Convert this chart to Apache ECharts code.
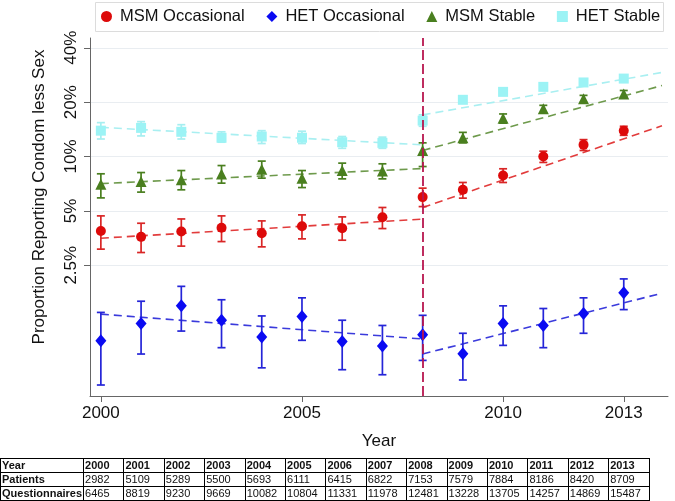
<!DOCTYPE html>
<html>
<head>
<meta charset="utf-8">
<script src="https://cdn.jsdelivr.net/npm/echarts@6/dist/echarts.min.js"></script>
<style>
  html, body { margin:0; padding:0; background:#fff; }
  #wrap { position:relative; width:675px; height:501px; overflow:hidden; }
  #chart { position:absolute; left:0; top:0; width:675px; height:501px; }
  #tbl { position:absolute; left:0; top:458px; border-collapse:collapse; table-layout:fixed;
         font-family:"Liberation Sans", Arial, sans-serif; font-size:11px; color:#111; }
  #tbl td { border:1px solid #000; padding:0 1px; height:13px; line-height:13px; white-space:nowrap; overflow:visible; }
  #tbl td.h { font-weight:bold; }
</style>
</head>
<body>
<div id="wrap">
  <div id="chart"></div>
  <table id="tbl"></table>
</div>
<script>
// ---------- data ----------
const years = [2000,2001,2002,2003,2004,2005,2006,2007,2008,2009,2010,2011,2012,2013];

const msmOcc   = [3.87,3.59,3.84,4.03,3.76,4.11,4.01,4.61,5.96,6.54,7.85,10.0,11.6,13.9];
const msmOccLo = [3.07,2.94,3.19,3.38,3.16,3.50,3.44,3.99,5.28,5.88,7.18,9.27,10.8,13.1];
const msmOccHi = [4.69,4.27,4.51,4.69,4.40,4.75,4.63,5.22,6.68,7.18,8.55,10.7,12.4,14.7];

const hetOcc   = [0.956,1.19,1.49,1.24,1.00,1.30,0.947,0.893,1.03,0.809,1.19,1.16,1.35,1.76];
const hetOccLo = [0.543,0.806,1.08,0.874,0.676,0.960,0.660,0.619,0.743,0.579,0.900,0.874,1.05,1.42];
const hetOccHi = [1.37,1.58,1.91,1.61,1.31,1.65,1.24,1.16,1.32,1.05,1.49,1.44,1.65,2.10];

const msmSt   = [7.03,7.27,7.43,7.99,8.51,7.59,8.36,8.30,10.8,12.7,16.3,18.4,20.9,22.2];
const msmStLo = [5.90,6.35,6.54,7.12,7.59,6.73,7.52,7.52,8.80,11.9,15.3,17.4,19.9,21.3];
const msmStHi = [8.02,8.15,8.36,8.91,9.43,8.36,9.19,9.11,11.9,13.6,17.2,19.2,21.8,23.2];

const hetSt   = [13.9,14.4,13.7,12.7,12.9,12.7,12.0,11.9,15.8,20.6,22.8,24.3,25.7,27.0];
const hetStLo = [12.5,13.0,12.5,12.0,11.8,11.8,11.1,11.1,14.7,20.0,22.1,23.6,25.0,26.3];
const hetStHi = [15.4,15.6,15.0,13.7,13.9,13.8,12.9,12.8,17.0,21.3,23.6,25.0,26.4,27.7];

// fitted segmented trends (start/end values)
const fitPreX  = [2000, 2008];
const fitPostX = [2008, 2013.95];
const msmOccFitPre = [3.53, 4.50],  msmOccFitPost = [5.22, 14.8];
const hetOccFitPre = [1.34, 0.976], hetOccFitPost = [0.806, 1.75];
const msmStFitPre  = [7.08, 8.58],  msmStFitPost  = [10.8, 24.7];
const hetStFitPre  = [14.5, 11.6],  hetStFitPost  = [17.0, 29.2];

const breakYear = 2008;
const yTicks = [2.5, 5, 10, 20, 40];
const xTicks = [2000, 2005, 2010, 2013];

const patients       = [2982,5109,5289,5500,5693,6111,6415,6822,7153,7579,7884,8186,8420,8709];
const questionnaires = [6465,8819,9230,9669,10082,10804,11331,11978,12481,13228,13705,14257,14869,15487];

// ---------- table ----------
(function buildTable(){
  const t = document.getElementById('tbl');
  let html = '<colgroup><col style="width:82px">' + years.map(()=> '<col style="width:40.4px">').join('') + '</colgroup>';
  html += '<tr><td class="h">Year</td>' + years.map(y=>'<td class="h">'+y+'</td>').join('') + '</tr>';
  html += '<tr><td class="h">Patients</td>' + patients.map(v=>'<td>'+v+'</td>').join('') + '</tr>';
  html += '<tr><td class="h">Questionnaires</td>' + questionnaires.map(v=>'<td>'+v+'</td>').join('') + '</tr>';
  t.innerHTML = html;
})();

// ---------- chart ----------
const FONT = '"Liberation Sans", Arial, sans-serif';
const pts = (ys)=> years.map((y,i)=>[y, ys[i]]);
const seg = (xs, ys)=> xs.map((x,i)=>[x, ys[i]]);

function errSeries(lo, hi, color){
  return {
    type:'custom', silent:true, z:2,
    data: years.map((y,i)=>[y, lo[i], hi[i]]),
    encode:{ x:0, y:[1,2] },
    renderItem:(params, api)=>{
      const x = api.value(0);
      const a = api.coord([x, api.value(1)]);
      const b = api.coord([x, api.value(2)]);
      const w = 4;
      const st = { stroke:color, lineWidth:1.7 };
      return { type:'group', children:[
        { type:'line', shape:{x1:a[0], y1:a[1], x2:b[0], y2:b[1]}, style:st },
        { type:'line', shape:{x1:a[0]-w, y1:a[1], x2:a[0]+w, y2:a[1]}, style:st },
        { type:'line', shape:{x1:b[0]-w, y1:b[1], x2:b[0]+w, y2:b[1]}, style:st }
      ]};
    }
  };
}
function fitSeries(data, color){
  return { type:'line', data, symbol:'none', silent:true, z:1,
           lineStyle:{ color, width:1.6, type:[8,5] } };
}
function ptSeries(name, data, symbol, size, color){
  return { type:'scatter', name, data, symbol, symbolSize:size, z:4,
           itemStyle:{ color, opacity:1 } };
}

const C = {
  msmOcc:'#dd0a0a', msmOccL:'#e23c3c',
  hetOcc:'#0a0af2', hetOccL:'#3b3bdc',
  msmSt:'#4a7f1f', msmStL:'#6e9a4c',
  hetSt:'#9cf3f5', hetStL:'#a9eff1'
};

const chart = echarts.init(document.getElementById('chart'), null, {renderer:'canvas'});
chart.setOption({
  animation:false,
  backgroundColor:'#fff',
  textStyle:{ fontFamily:FONT },
  graphic:[{ type:'rect', left:95, top:2, shape:{ width:568, height:29 },
             style:{ fill:'#fff', stroke:'#dcdcdc', lineWidth:1 }, z:-1, silent:true }],
  legend:{
    left:101, top:8, padding:0, itemGap:21.7, itemWidth:11, itemHeight:11,
    textStyle:{ fontFamily:FONT, fontSize:16.5, color:'#111', padding:[0,0,0,3] },
    data:[
      { name:'MSM Occasional', icon:'circle' },
      { name:'HET Occasional', icon:'diamond' },
      { name:'MSM Stable', icon:'triangle' },
      { name:'HET Stable', icon:'rect' }
    ]
  },
  grid:{ left:90, top:38, right:7, bottom:105 },
  xAxis:{
    type:'value', min:1999.73, max:2014.1,
    name:'Year', nameLocation:'middle', nameGap:37,
    nameTextStyle:{ fontFamily:FONT, fontSize:17, color:'#111' },
    axisLine:{ show:true, lineStyle:{ color:'#666', width:1 } },
    axisTick:{ show:true, length:6, lineStyle:{ color:'#666' }, customValues:xTicks },
    axisLabel:{ fontFamily:FONT, fontSize:17, color:'#111', margin:9, customValues:xTicks,
                formatter:(v)=> String(Math.round(v)) },
    splitLine:{ show:false }
  },
  yAxis:{
    type:'log', logBase:10, min:0.472, max:45.3,
    name:'Proportion Reporting Condom less Sex', nameLocation:'middle', nameGap:42,
    nameTextStyle:{ fontFamily:FONT, fontSize:17, color:'#111', padding:[0,0,0,40] },
    axisLine:{ show:true, lineStyle:{ color:'#666', width:1 } },
    axisTick:{ show:true, length:6, lineStyle:{ color:'#666' }, customValues:yTicks },
    axisLabel:{ fontFamily:FONT, fontSize:17, color:'#111', rotate:90, margin:10,
                customValues:yTicks, formatter:(v)=> v + '%' },
    splitLine:{ show:true, lineStyle:{ color:'#e9edf1', width:1 } }
  },
  series:[
    fitSeries(seg(fitPreX, msmOccFitPre), C.msmOccL),
    fitSeries(seg(fitPostX, msmOccFitPost), C.msmOccL),
    fitSeries(seg(fitPreX, hetOccFitPre), C.hetOccL),
    fitSeries(seg(fitPostX, hetOccFitPost), C.hetOccL),
    fitSeries(seg(fitPreX, msmStFitPre), C.msmStL),
    fitSeries(seg(fitPostX, msmStFitPost), C.msmStL),
    fitSeries(seg(fitPreX, hetStFitPre), C.hetStL),
    fitSeries(seg(fitPostX, hetStFitPost), C.hetStL),
    errSeries(msmOccLo, msmOccHi, '#d92626'),
    errSeries(hetOccLo, hetOccHi, '#2525d8'),
    errSeries(msmStLo, msmStHi, '#4a7f1f'),
    errSeries(hetStLo, hetStHi, '#a6eef0'),
    Object.assign(ptSeries('MSM Occasional', pts(msmOcc), 'circle', 10, C.msmOcc), {
      markLine:{ silent:true, symbol:'none', label:{show:false},
                 lineStyle:{ color:'#b8174f', width:1.8, type:[10,4] },
                 data:[{ xAxis:breakYear }] }
    }),
    ptSeries('HET Occasional', pts(hetOcc), 'diamond', [11,13], C.hetOcc),
    ptSeries('MSM Stable', pts(msmSt), 'triangle', 11, C.msmSt),
    ptSeries('HET Stable', pts(hetSt), 'rect', 10, C.hetSt)
  ]
});
</script>
</body>
</html>
